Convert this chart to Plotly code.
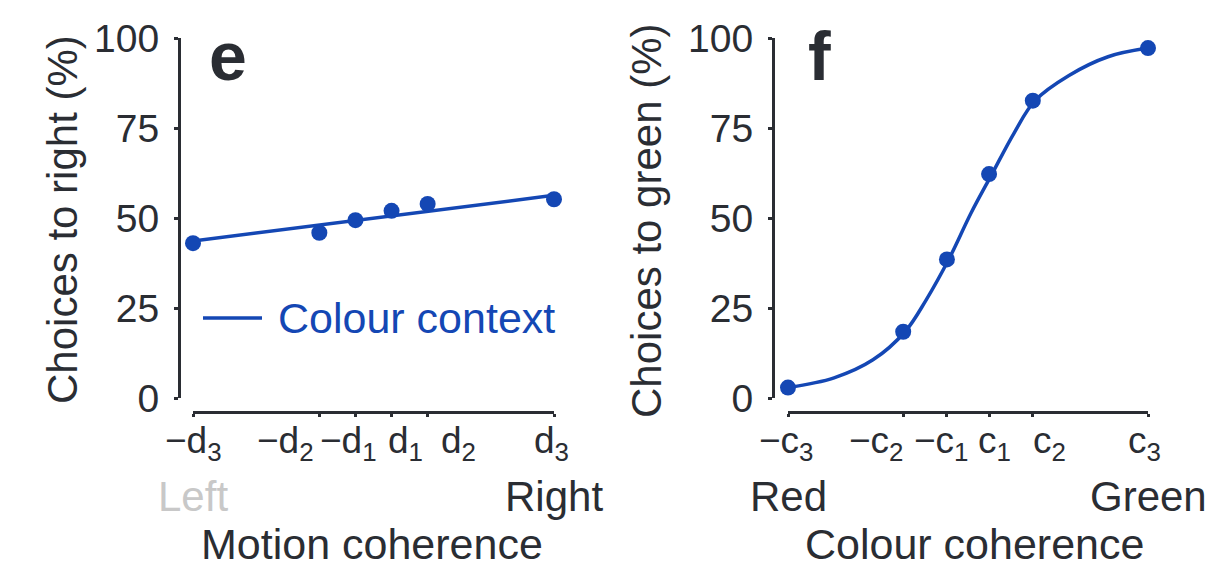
import plotly.graph_objects as go

# ---- data -------------------------------------------------------------
# Motion coherence levels (relative units, -d3 .. d3) and choices to right (%)
motion_coh = [-1.0, -0.3, -0.1, 0.1, 0.3, 1.0]
motion_ticktext = ["\u2212d<sub>3</sub>", "\u2212d<sub>2</sub>", "\u2212d<sub>1</sub>",
                   "d<sub>1</sub>", "d<sub>2</sub>", "d<sub>3</sub>"]
choices_right = [43.0, 45.9, 49.4, 52.0, 53.9, 55.2]
# straight fit line through the colour-context data (end points)
fit_e_x = [-1.0, 1.0]
fit_e_y = [43.6, 56.3]

# Colour coherence levels (relative units, -c3 .. c3) and choices to green (%)
colour_coh = [-1.0, -0.36, -0.117, 0.117, 0.36, 1.0]
colour_ticktext = ["\u2212c<sub>3</sub>", "\u2212c<sub>2</sub>", "\u2212c<sub>1</sub>",
                   "c<sub>1</sub>", "c<sub>2</sub>", "c<sub>3</sub>"]
choices_green = [2.9, 18.4, 38.5, 62.2, 82.6, 97.2]
# psychometric fit for the colour data, sampled along the coherence axis
fit_f_x = [-1.0, -0.744, -0.528, -0.35, -0.233, -0.106, 0.017,
           0.133, 0.256, 0.372, 0.561, 0.778, 1.0]
fit_f_y = [2.9, 5.6, 10.6, 18.4, 27.2, 38.6, 51.4,
           62.2, 73.6, 82.6, 89.6, 94.8, 97.2]

y_ticks = [0, 25, 50, 75, 100]

# ---- styling ----------------------------------------------------------
W, H = 1209, 567
BLUE = "#1447b4"
INK = "#2a2d33"
FONT = "Liberation Sans, Arial, Helvetica, sans-serif"
# horizontal nudges (px) keeping the crowded coherence labels apart
motion_label_shift = [0, -34, -7, 14, 31, -3]
colour_label_shift = [-2, -27, -5, 5, 17, -4]


def px_x(p):
    return p / W


def px_y(p):
    return 1 - p / H


fig = go.Figure()

# panel e: motion
fig.add_trace(go.Scatter(x=fit_e_x, y=fit_e_y, mode="lines",
                         line=dict(color=BLUE, width=3.5),
                         xaxis="x", yaxis="y", showlegend=False,
                         name="Colour context"))
fig.add_trace(go.Scatter(x=motion_coh, y=choices_right, mode="markers",
                         marker=dict(color=BLUE, size=16),
                         cliponaxis=False, xaxis="x", yaxis="y",
                         showlegend=False))

# panel f: colour
fig.add_trace(go.Scatter(x=fit_f_x, y=fit_f_y, mode="lines",
                         line=dict(color=BLUE, width=3.5, shape="spline", smoothing=1.0),
                         cliponaxis=False, xaxis="x2", yaxis="y2",
                         showlegend=False))
fig.add_trace(go.Scatter(x=colour_coh, y=choices_green, mode="markers",
                         marker=dict(color=BLUE, size=16),
                         cliponaxis=False, xaxis="x2", yaxis="y2",
                         showlegend=False))

axis_common = dict(showgrid=False, zeroline=False, showline=True,
                   linecolor=INK, linewidth=3, ticks="outside",
                   tickcolor=INK, tickwidth=2.5, automargin=False)

y_dom = [px_y(398), px_y(38)]
x_pos = px_y(412)

fig.update_layout(
    width=W, height=H, autosize=False,
    margin=dict(l=0, r=0, t=0, b=0),
    paper_bgcolor="white", plot_bgcolor="white",
    font=dict(family=FONT, color=INK),
    showlegend=False,
    xaxis=dict(domain=[px_x(193), px_x(554)], range=[-1, 1], anchor="free",
               position=x_pos, tickvals=motion_coh, showticklabels=False,
               ticklen=3, **axis_common),
    yaxis=dict(domain=y_dom, range=[0, 100], anchor="free", position=px_x(179),
               tickvals=y_ticks, ticklen=4, ticklabelstandoff=7,
               tickfont=dict(size=39, color=INK), **axis_common),
    xaxis2=dict(domain=[px_x(788), px_x(1148)], range=[-1, 1], anchor="free",
                position=x_pos, tickvals=colour_coh, showticklabels=False,
                ticklen=3, **axis_common),
    yaxis2=dict(domain=y_dom, range=[0, 100], anchor="free", position=px_x(773),
                tickvals=y_ticks, ticklen=4, ticklabelstandoff=7,
                tickfont=dict(size=39, color=INK), **axis_common),
)

ann = []
# coherence tick labels
for xr, vals, texts, shifts in (("x", motion_coh, motion_ticktext, motion_label_shift),
                                ("x2", colour_coh, colour_ticktext, colour_label_shift)):
    for v, t, s in zip(vals, texts, shifts):
        ann.append(dict(text=t, x=v, xref=xr, y=px_y(418), yref="paper",
                        xanchor="center", yanchor="top", xshift=s,
                        showarrow=False, font=dict(size=37, color=INK)))

# panel letters
ann.append(dict(text="<b>e</b>", x=px_x(207), y=px_y(56), xref="paper", yref="paper",
                xanchor="left", yanchor="middle", showarrow=False,
                font=dict(size=68, color=INK, family=FONT)))
ann.append(dict(text="<b>f</b>", x=px_x(806), y=px_y(56), xref="paper", yref="paper",
                xanchor="left", yanchor="middle", showarrow=False,
                font=dict(size=68, color=INK, family=FONT)))

# y titles
ann.append(dict(text="Choices to right (%)", x=px_x(62), y=px_y(220), xref="paper",
                yref="paper", textangle=-90, xanchor="center", yanchor="middle",
                showarrow=False, font=dict(size=42, color=INK)))
ann.append(dict(text="Choices to green (%)", x=px_x(647), y=px_y(221), xref="paper",
                yref="paper", textangle=-90, xanchor="center", yanchor="middle",
                showarrow=False, font=dict(size=42, color=INK)))

# end labels
ann.append(dict(text="Left", x=-1, xref="x", y=px_y(496), yref="paper",
                showarrow=False, xanchor="center", yanchor="middle",
                font=dict(size=42, color="#c8c8c8")))
ann.append(dict(text="Right", x=1, xref="x", y=px_y(496), yref="paper",
                showarrow=False, xanchor="center", yanchor="middle",
                font=dict(size=42, color=INK)))
ann.append(dict(text="Red", x=-1, xref="x2", y=px_y(496), yref="paper",
                showarrow=False, xanchor="center", yanchor="middle",
                font=dict(size=42, color=INK)))
ann.append(dict(text="Green", x=1, xref="x2", y=px_y(496), yref="paper",
                showarrow=False, xanchor="center", yanchor="middle",
                font=dict(size=42, color=INK)))

# x titles
ann.append(dict(text="Motion coherence", x=px_x(372), y=px_y(544), xref="paper",
                yref="paper", showarrow=False, xanchor="center", yanchor="middle",
                font=dict(size=43, color=INK)))
ann.append(dict(text="Colour coherence", x=px_x(975), y=px_y(544), xref="paper",
                yref="paper", showarrow=False, xanchor="center", yanchor="middle",
                font=dict(size=43, color=INK)))

# legend for panel e
ann.append(dict(text="Colour context", x=px_x(276), y=px_y(318), xref="paper",
                yref="paper", showarrow=False, xanchor="left", yanchor="middle",
                font=dict(size=43, color=BLUE)))
fig.update_layout(annotations=ann)
fig.add_shape(type="line", xref="paper", yref="paper",
              x0=px_x(203), x1=px_x(262), y0=px_y(318), y1=px_y(318),
              line=dict(color=BLUE, width=3.5))

fig.write_html("out.html")
